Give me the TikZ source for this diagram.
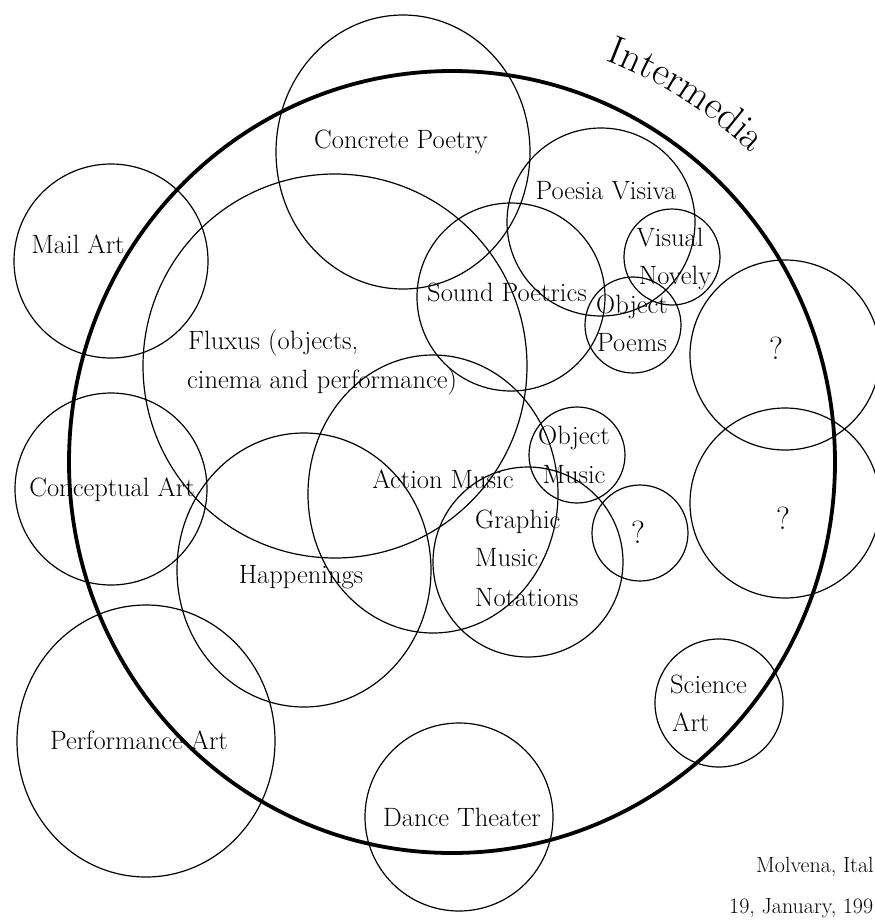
\documentclass[tikz,border=0pt]{standalone}
\usetikzlibrary{decorations.text}
\begin{document}
\begin{tikzpicture}[x=1pt,y=-1pt,
  ring/.style={draw=black, line width=1.2pt},
  bigring/.style={draw=black, line width=3.8pt},
  lbl/.style={inner sep=0pt, font=\fontsize{26.5}{30}\selectfont, anchor=base},
  lbll/.style={lbl, anchor=base west},
  qmark/.style={inner sep=0pt, font=\fontsize{32}{34}\selectfont, anchor=center},
  note/.style={inner sep=0pt, font=\fontsize{22}{24}\selectfont, anchor=base west}]
\useasboundingbox (0,0) rectangle (875,922);
\fill[white] (0,0) rectangle (875,922);
\begin{scope}
\clip (0,0) rectangle (875,922);
% outer Intermedia ring
\draw[bigring] (452,462) ellipse [x radius=383, y radius=391];
% circles
\draw[ring] (403,152) ellipse [x radius=127, y radius=137]; % Concrete Poetry
\draw[ring] (335,366) circle [radius=192];                   % Fluxus
\draw[ring] (111,261) circle [radius=97];                    % Mail Art
\draw[ring] (111,489) circle [radius=96];                    % Conceptual Art
\draw[ring] (146,741) ellipse [x radius=129, y radius=136];  % Performance Art
\draw[ring] (304,570) ellipse [x radius=127, y radius=137];  % Happenings
\draw[ring] (433,494) ellipse [x radius=125, y radius=139];  % Action Music
\draw[ring] (528,562) circle [radius=95];                    % Graphic Music Notations
\draw[ring] (511,297) circle [radius=94];                    % Sound Poetrics
\draw[ring] (601,222) circle [radius=94];                    % Poesia Visiva
\draw[ring] (672,257) circle [radius=48];                    % Visual Novely
\draw[ring] (633,325) circle [radius=48];                    % Object Poems
\draw[ring] (577,455) circle [radius=48];                    % Object Music
\draw[ring] (640,533) circle [radius=48];                    % small ?
\draw[ring] (785,355) circle [radius=95];                    % upper ?
\draw[ring] (785,503) circle [radius=95];                    % lower ?
\draw[ring] (719,703) circle [radius=64];                    % Science Art
\draw[ring] (459,817) circle [radius=94];                    % Dance Theater
% labels
\node[lbl] (concrete) at (401,148) {Concrete Poetry};
\node[lbl] (mail) at (78,253) {Mail Art};
\node[lbll] (flux1) at (188,349) {Fluxus (objects,};
\node[lbll] (flux2) at (187,388) {cinema and performance)};
\node[lbl] (sound) at (507,301) {Sound Poetrics};
\node[lbl] (poesia) at (606,199) {Poesia Visiva};
\node[lbl] (visual) at (670,246) {Visual};
\node[lbl] (novely) at (675,284) {Novely};
\node[lbl] (objp1) at (632,313) {Object};
\node[lbl] (objp2) at (632,351) {Poems};
\node[lbl] (concept) at (112,496) {Conceptual Art};
\node[lbl] (action) at (443,488) {Action Music};
\node[lbl] (objm1) at (574,444) {Object};
\node[lbl] (objm2) at (574,483) {Music};
\node[lbll] (graph1) at (475,528) {Graphic};
\node[lbll] (graph2) at (475,566) {Music};
\node[lbll] (graph3) at (475,606) {Notations};
\node[qmark] (q1) at (638,532) {?};
\node[qmark] (q2) at (776,348) {?};
\node[qmark] (q3) at (783,518) {?};
\node[lbl] (happen) at (301,583) {Happenings};
\node[lbl] (perf) at (139,749) {Performance Art};
\node[lbll] (sci1) at (670,693) {Science};
\node[lbll] (sci2) at (672,731) {Art};
\node[lbl] (dance) at (462,826) {Dance Theater};
\node[note] (place) at (756,872) {Molvena, Ital};
\node[note] (date) at (729,913) {19, January, 199};
\end{scope}
% curved title
\begin{scope}[y=1pt]
\path[decorate, decoration={text along path, text align=center,
  text={|\fontsize{40}{40}\selectfont|Intermedia}}]
  (452,-462) ++(75:430) arc[start angle=75, end angle=40, radius=430];
\end{scope}
\end{tikzpicture}
\end{document}
